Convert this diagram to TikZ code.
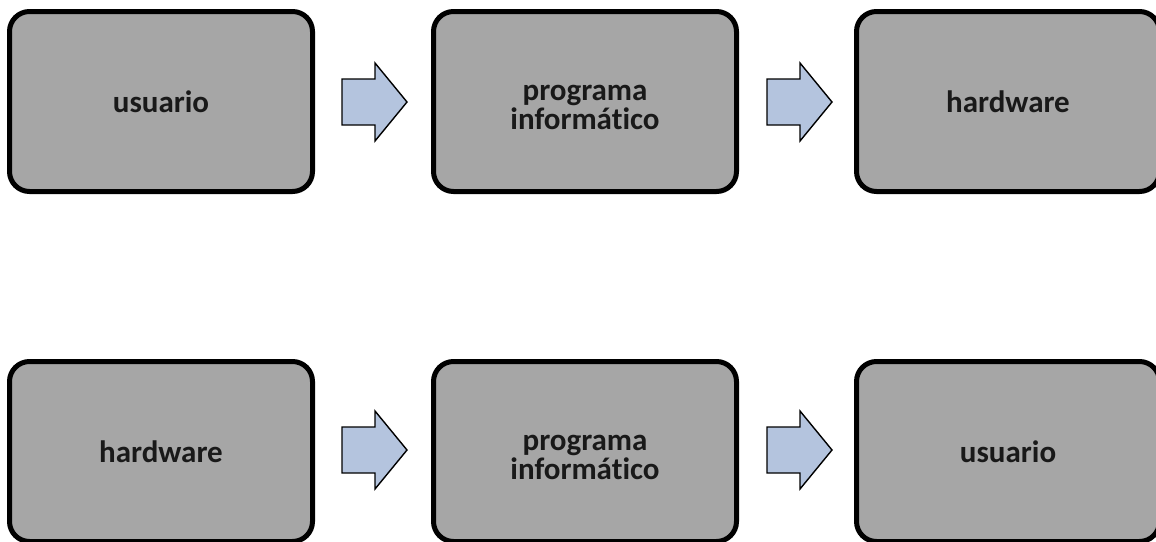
\documentclass[tikz,border=0pt]{standalone}
\usepackage{fontspec}
\setmainfont[Ligatures=NoCommon]{Carlito}
\definecolor{boxgray}{HTML}{A6A6A6}
\definecolor{arrowblue}{HTML}{B4C4DE}
\newcommand{\topstrut}{\rule{0pt}{27pt}}
\begin{document}
\begin{tikzpicture}[x=1pt,y=-1pt,
  blockbox/.style={draw=black, fill=boxgray, line width=5pt, rounded corners=20pt,
    minimum width=303pt, minimum height=180pt, inner sep=0pt, align=center,
    font=\fontsize{31pt}{28.6pt}\selectfont\bfseries, text=black!90},
  blockarrow/.style={draw=black, fill=arrowblue, line width=1.4pt, line join=miter}]
\useasboundingbox (0,0) rectangle (1156,541);
\clip (0,0) rectangle (1156,541);
% top row
\node[blockbox] (u1) at (161,101.5) {usuario};
\node[blockbox] (p1) at (585,101.5) {\topstrut programa\\informático};
\node[blockbox] (h1) at (1008,101.5) {hardware};
% bottom row
\node[blockbox] (h2) at (161,451.5) {hardware};
\node[blockbox] (p2) at (585,451.5) {\topstrut programa\\informático};
\node[blockbox] (u2) at (1008,451.5) {usuario};
% block arrows
\newcommand{\blockarr}[2]{%
  \draw[blockarrow] (#1,#2-23) -- (#1+33,#2-23) -- (#1+33,#2-39) -- (#1+65,#2)
    -- (#1+33,#2+39) -- (#1+33,#2+23) -- (#1,#2+23) -- cycle;}
\blockarr{342}{102}
\blockarr{767}{102}
\blockarr{342}{450}
\blockarr{767}{450}
\end{tikzpicture}
\end{document}
